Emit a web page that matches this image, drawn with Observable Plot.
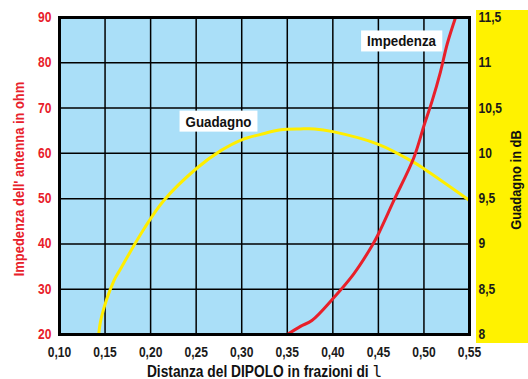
<!DOCTYPE html>
<html><head><meta charset="utf-8">
<script src="https://cdn.jsdelivr.net/npm/d3@7"></script>
<script src="https://cdn.jsdelivr.net/npm/@observablehq/plot@0.6"></script>
<style>
body{margin:0;background:#fff;}
#wrap{position:relative;width:528px;height:379px;overflow:hidden;}
#panel{position:absolute;left:476px;top:10px;width:52px;height:333px;background:#fff200;}
#chart{position:absolute;left:0;top:0;}
</style></head><body>
<div id="wrap"><div id="panel"></div><div id="chart"></div></div>
<script>
// ---- data ----
const xTicks = [0.10, 0.15, 0.20, 0.25, 0.30, 0.35, 0.40, 0.45, 0.50, 0.55];
const impTicks = [20, 30, 40, 50, 60, 70, 80, 90];
const gainTicks = [8, 8.5, 9, 9.5, 10, 10.5, 11, 11.5];

// Impedenza (ohm) vs distanza
const impDist   = [0.35, 0.3645, 0.377, 0.40, 0.423, 0.443, 0.45, 0.467, 0.489, 0.50, 0.509, 0.518, 0.5256, 0.5347];
const impValues = [20,   21.8,   23.1,  27.9, 33.4,  39.6,  42.2, 49.6,  59.1,  66.1, 71.6,  77.9,  84.2,   90];

// Guadagno (dB) vs distanza
const gainDist   = [0.143, 0.146, 0.16, 0.165, 0.193, 0.2145, 0.25, 0.277, 0.30, 0.321, 0.343, 0.3645, 0.38, 0.40, 0.45, 0.489, 0.50, 0.55];
const gainValues = [8.0,   8.19,  8.6,  8.69,  9.17,  9.48,   9.83, 10.03, 10.15, 10.21, 10.26, 10.27, 10.27, 10.24, 10.10, 9.90, 9.83, 9.48];

const seriesLabels = ["Impedenza", "Guadagno"];
const labelX = [0.4754, 0.2745];
const labelY = [84.7, 67.0];

const titleX = "Distanza del DIPOLO in frazioni di ";
const titleLambda = "l";
const titleLeft = "Impedenza dell' antenna in ohm";
const titleRight = "Guadagno in dB";

// ---- build ----
const gainToImp = g => 20 + (g - 8) * 20;
const impToGain = v => (v - 20) / 20 + 8;
const comma = s => String(s).replace(".", ",");

const impData = impDist.map((d, i) => ({d, v: impValues[i]}));
const gainData = gainDist.map((d, i) => ({d, g: gainValues[i]}));
const labelData = seriesLabels.map((t, i) => ({t, x: labelX[i], y: labelY[i]}));

const RED = "#e8202a", YEL = "#ffee00", BLUE = "#aadff8";
const FONT = "'Liberation Sans', Arial, sans-serif";
const CONDENSE = 0.86;

const plot = Plot.plot({
  width: 528, height: 379,
  marginLeft: 59, marginRight: 59, marginTop: 17, marginBottom: 45,
  style: {fontFamily: FONT, fontSize: "14px", fontWeight: "bold", background: "transparent"},
  x: {domain: [0.10, 0.55]},
  y: {domain: [20, 90]},
  marks: [
    Plot.frame({fill: BLUE}),
    Plot.gridX(xTicks, {stroke: "#000", strokeOpacity: 1, strokeWidth: 1.5}),
    Plot.gridY(impTicks, {stroke: "#000", strokeOpacity: 1, strokeWidth: 1.5}),
    Plot.line(gainData, {x: "d", y: d => gainToImp(d.g), stroke: YEL, strokeWidth: 3, curve: "catmull-rom"}),
    Plot.line(impData, {x: "d", y: "v", stroke: RED, strokeWidth: 3, curve: "catmull-rom"}),
    Plot.frame({stroke: "#000", strokeWidth: 3}),
    Plot.axisX(xTicks, {tickSize: 0, tickPadding: 13, tickFormat: d => d.toFixed(2).replace(".", ","), fill: "#1a1a1a", label: null}),
    Plot.axisY(impTicks, {anchor: "left", tickSize: 0, tickPadding: 8, fill: RED, label: null}),
    Plot.axisY(gainTicks.map(gainToImp), {anchor: "right", tickSize: 0, tickPadding: 9, tickFormat: v => comma(impToGain(v)), fill: "#1a1a1a", label: null}),
    Plot.text(labelData, {x: "x", y: "y", text: "t", fill: "#111", fontSize: 15.5}),
    Plot.text([titleLeft], {frameAnchor: "left", textAnchor: "middle", lineAnchor: "middle", text: d => d, rotate: -90, dx: -40, dy: 3, fill: RED, fontSize: 15}),
    Plot.text([titleRight], {frameAnchor: "right", textAnchor: "middle", lineAnchor: "middle", text: d => d, rotate: -90, dx: 47, dy: 4, fill: "#111", fontSize: 15}),
    Plot.text([titleX], {frameAnchor: "bottom", textAnchor: "middle", lineAnchor: "middle", text: d => d, dy: 37, fill: "#111", fontSize: 16})
  ]
});
document.getElementById("chart").appendChild(plot);

const svg = d3.select(plot);

// condensed lettering like the original
const condense = el => {
  const L = el.getComputedTextLength();
  if (L > 0) {
    el.setAttribute("textLength", L * CONDENSE);
    el.setAttribute("lengthAdjust", "spacingAndGlyphs");
  }
};

let xTitleEl = null;
svg.selectAll("text").each(function() {
  if (this.textContent === titleX) { xTitleEl = this; return; }
  condense(this);
});

// x title: condensed words + monospace lambda glyph
if (xTitleEl) {
  const t = d3.select(xTitleEl);
  t.text(null);
  const words = t.append("tspan").text(titleX);
  condense(words.node());
  t.append("tspan").attr("font-family", "'DejaVu Sans Mono', monospace").attr("font-weight", "normal").text(titleLambda);
}

// white boxes behind series labels
svg.selectAll("text").filter(function() { return seriesLabels.includes(this.textContent); })
  .each(function() {
    const b = this.getBBox();
    const r = document.createElementNS("http://www.w3.org/2000/svg", "rect");
    r.setAttribute("x", b.x - 6);
    r.setAttribute("y", b.y - 2);
    r.setAttribute("width", b.width + 12);
    r.setAttribute("height", b.height + 4);
    r.setAttribute("fill", "#fff");
    const t = this.getAttribute("transform");
    if (t) r.setAttribute("transform", t);
    this.parentNode.insertBefore(r, this);
  });
</script>
</body></html>
